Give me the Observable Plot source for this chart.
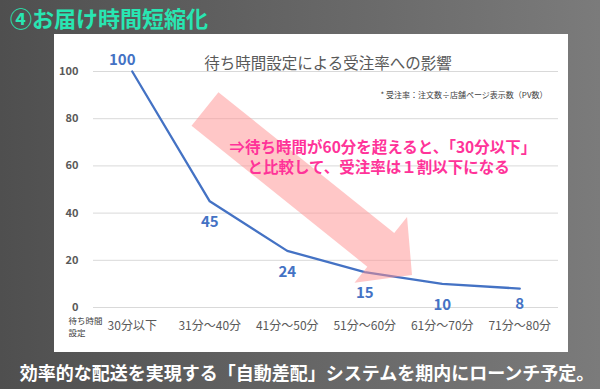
<!DOCTYPE html>
<html><head><meta charset="utf-8">
<script src="https://cdn.jsdelivr.net/npm/d3@7"></script>
<script src="https://cdn.jsdelivr.net/npm/@observablehq/plot@0.6"></script>
<style>
body{margin:0;width:600px;height:389px;overflow:hidden;position:relative;background:linear-gradient(to right,#4f4f4f,#7b7b7b);font-family:"Noto Sans CJK JP",sans-serif}
#title{position:absolute;left:10px;top:0;font-size:22px;font-weight:bold;color:#28e6b2;line-height:34px;white-space:nowrap}
#panel{position:absolute;left:54px;top:34px;width:514px;height:318px;background:#fff}
#caption{position:absolute;left:0;width:614px;text-align:center;top:357px;font-size:18px;font-weight:bold;color:#fff;line-height:30px;white-space:nowrap}
#panel svg [aria-label^="y-axis"] text{font-weight:bold;font-size:11px;fill:#595959}
#panel svg [aria-label^="x-axis"] text{font-size:12px;fill:#595959}
</style></head>
<body>
<div id="title"></div>
<div id="panel"></div>
<div id="caption"></div>
<script>
const pageTitle = "④お届け時間短縮化";
const caption = "効率的な配送を実現する「自動差配」システムを期内にローンチ予定。";
const chartTitle = "待ち時間設定による受注率への影響";
const footnote = "* 受注率：注文数÷店舗ページ表示数（PV数）";
const axisLabel = "待ち時間\n設定";
const categories = ["30分以下","31分～40分","41分～50分","51分～60分","61分～70分","71分～80分"];
const orderRate = [100,45,24,15,10,8];
const yTicks = [0,20,40,60,80,100];
const calloutLines = ["⇒待ち時間が60分を超えると、「30分以下」","と比較して、受注率は１割以下になる"];
const calloutX = [1.255,1.487];
const calloutY = [67.4,58.9];
const arrowFrom = [0.945,83.9];
const arrowTo = [3.616,13.6];

document.getElementById("title").textContent = pageTitle;
document.getElementById("caption").textContent = caption;

const data = categories.map((c,i)=>({i, c, v: orderRate[i]}));
const callouts = calloutLines.map((t,k)=>({t, x: calloutX[k], y: calloutY[k]}));
const font = '"Noto Sans CJK JP", sans-serif';

function arrowMark(index, scales) {
  const sx = scales.x(arrowFrom[0]), sy = scales.y(arrowFrom[1]);
  const tx = scales.x(arrowTo[0]), ty = scales.y(arrowTo[1]);
  const L = Math.hypot(tx-sx, ty-sy), ux = (tx-sx)/L, uy = (ty-sy)/L;
  const nx = -uy, ny = ux;
  const hw = 21.5, hh = 42, hl = 40;
  const bx = tx - hl*ux, by = ty - hl*uy;
  const pts = [
    [sx+hw*nx, sy+hw*ny],[bx+hw*nx, by+hw*ny],[bx+hh*nx, by+hh*ny],[tx,ty],
    [bx-hh*nx, by-hh*ny],[bx-hw*nx, by-hw*ny],[sx-hw*nx, sy-hw*ny]
  ];
  return d3.create("svg:path")
    .attr("d", "M" + pts.map(p=>p.join(",")).join("L") + "Z")
    .attr("fill", "#ff8f8f").attr("fill-opacity", 0.5).node();
}

const labelStyle = {x: "i", y: "v", text: d => String(d.v), fontSize: 15, fontWeight: "bold", fill: "#4472c4"};
const n = data.length;

const plot = Plot.plot({
  width: 514, height: 318,
  marginLeft: 39, marginRight: 10, marginTop: 37, marginBottom: 45,
  style: {fontFamily: font, background: "#fff", color: "#595959"},
  x: {type: "linear", domain: [-0.5, 5.5], ticks: categories.map((c,i)=>i), tickFormat: i => categories[i], tickSize: 0, tickPadding: 14, label: null},
  y: {domain: [0, 100], ticks: yTicks, tickSize: 0, tickPadding: 15, label: null},
  marks: [
    Plot.ruleY(yTicks, {stroke: "#d9d9d9", strokeWidth: 1}),
    Plot.line(data, {x: "i", y: "v", stroke: "#4472c4", strokeWidth: 2.3, curve: "linear"}),
    arrowMark,
    Plot.text(data.slice(0,1), {...labelStyle, dx: -10, dy: -11}),
    Plot.text(data.slice(1, n-1), {...labelStyle, dy: 21}),
    Plot.text(data.slice(n-1), {...labelStyle, dy: 16}),
    Plot.text([chartTitle], {frameAnchor: "top", text: d => d, dx: 2, dy: -14, fontSize: 15.5, fill: "#595959"}),
    Plot.text([footnote], {frameAnchor: "top-right", text: d => d, dx: -11, dy: 21, textAnchor: "end", fontSize: 8, fill: "#404040"}),
    Plot.text([axisLabel], {frameAnchor: "bottom-left", text: d => d, dx: -25, dy: 28, textAnchor: "start", fontSize: 8.5, lineHeight: 1.4, fill: "#404040"}),
    Plot.text(callouts, {x: "x", y: "y", text: "t", textAnchor: "start", fontSize: 15.5, fontWeight: "bold", fill: "#ff3399"})
  ]
});
document.getElementById("panel").appendChild(plot);
</script>
</body></html>
